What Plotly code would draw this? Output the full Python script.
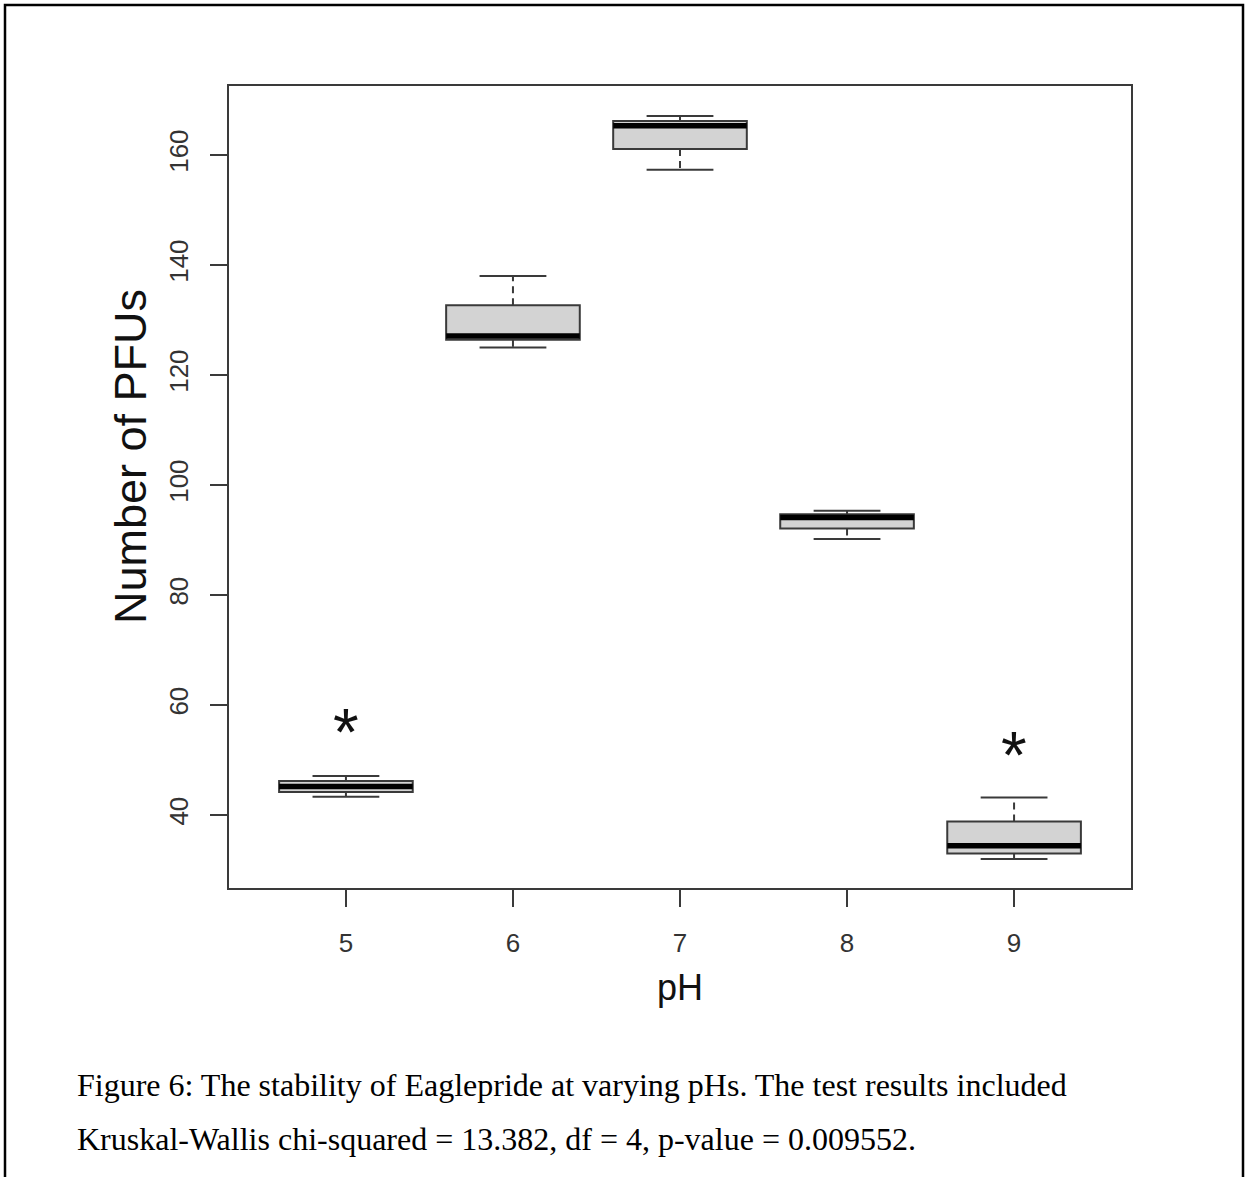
import plotly.graph_objects as go

# pH levels tested and five-number summaries of plaque counts (PFUs)
ph = [5, 6, 7, 8, 9]
pfu_min = [43.3, 125.0, 157.3, 90.2, 32.0]
pfu_q1 = [44.2, 126.4, 161.1, 92.1, 33.0]
pfu_median = [45.2, 127.1, 165.3, 94.1, 34.4]
pfu_q3 = [46.2, 132.7, 166.2, 94.7, 38.8]
pfu_max = [47.1, 138.0, 167.1, 95.3, 43.2]

# significance markers
signif_ph = [5, 9]
signif_y = [56.9, 52.7]

y_ticks = [40, 60, 80, 100, 120, 140, 160]

caption_lines = [
    "Figure 6: The stability of Eaglepride at varying pHs. The test results included",
    "Kruskal-Wallis chi-squared = 13.382, df = 4, p-value = 0.009552.",
]

BOX_W = 0.8
CAP_W = 0.4
LINE = "#3a3a3a"
SANS = "Liberation Sans, Arial, Helvetica, sans-serif"
SERIF = "Liberation Serif, Times New Roman, serif"

W, H = 1245, 1177
L, R, T, B = 229, 114, 86, 289
PW, PH = W - L - R, H - T - B


def px_x(px):
    return (px - L) / PW


def px_y(py):
    return (H - B - py) / PH


fig = go.Figure()

# boxes (whiskers drawn separately so they can be dashed)
fig.add_trace(go.Box(
    x=ph, q1=pfu_q1, median=pfu_median, q3=pfu_q3,
    lowerfence=pfu_q1, upperfence=pfu_q3,
    width=BOX_W, whiskerwidth=0,
    fillcolor="#d3d3d3", line=dict(color=LINE, width=2),
    boxpoints=False, hoverinfo="skip", showlegend=False,
))

# dashed whiskers
wx, wy = [], []
for x, lo, q1, q3, hi in zip(ph, pfu_min, pfu_q1, pfu_q3, pfu_max):
    wx += [x, x, None, x, x, None]
    wy += [q3, hi, None, q1, lo, None]
fig.add_trace(go.Scatter(
    x=wx, y=wy, mode="lines",
    line=dict(color=LINE, width=2, dash="7px,5px"),
    hoverinfo="skip", showlegend=False,
))

# whisker caps
cx, cy = [], []
for x, lo, hi in zip(ph, pfu_min, pfu_max):
    cx += [x - CAP_W / 2, x + CAP_W / 2, None, x - CAP_W / 2, x + CAP_W / 2, None]
    cy += [hi, hi, None, lo, lo, None]
fig.add_trace(go.Scatter(
    x=cx, y=cy, mode="lines",
    line=dict(color=LINE, width=2),
    hoverinfo="skip", showlegend=False,
))

# thick median bars
mx, my = [], []
for x, m in zip(ph, pfu_median):
    mx += [x - BOX_W / 2, x + BOX_W / 2, None]
    my += [m, m, None]
fig.add_trace(go.Scatter(
    x=mx, y=my, mode="lines",
    line=dict(color="#000000", width=5.5),
    hoverinfo="skip", showlegend=False,
))

# asterisks marking significant groups (glyph sits high, so nudge down)
for x, y in zip(signif_ph, signif_y):
    fig.add_annotation(
        x=x, y=y, text="*", showarrow=False,
        xanchor="center", yanchor="middle", yshift=-10,
        font=dict(family=SANS, size=66, color="#111111"),
    )

# y-axis title placed as rotated text
fig.add_annotation(
    text="Number of PFUs", xref="paper", yref="paper",
    x=px_x(130), y=px_y(457), textangle=-90,
    xanchor="center", yanchor="middle", showarrow=False,
    font=dict(family=SANS, size=45, color="#111111"),
)

# outer frame around figure and caption
fig.add_shape(
    type="path", xref="paper", yref="paper",
    path=(f"M {px_x(5)} {px_y(H)} L {px_x(5)} {px_y(5)} "
          f"L {px_x(1243)} {px_y(5)} L {px_x(1243)} {px_y(H)}"),
    line=dict(color="#000000", width=2.5),
)

for i, txt in enumerate(caption_lines):
    fig.add_annotation(
        text=txt, xref="paper", yref="paper",
        x=px_x(75), y=px_y(1085 + 54 * i),
        xanchor="left", yanchor="middle", showarrow=False,
        font=dict(family=SERIF, size=32, color="#000000"),
    )

fig.update_layout(
    width=W, height=H,
    margin=dict(l=L, r=R, t=T, b=B, pad=0),
    paper_bgcolor="white", plot_bgcolor="white",
    font=dict(family=SANS, color="#333333"),
)

fig.update_xaxes(
    range=[4.3, 9.7], tickvals=ph, ticktext=[str(p) for p in ph],
    ticks="outside", ticklen=17, tickwidth=1.6, tickcolor=LINE,
    tickfont=dict(size=26, color="#333333"),
    showgrid=False, zeroline=False,
    showline=True, mirror=True, linecolor=LINE, linewidth=2,
    title=dict(text="pH", font=dict(size=36, color="#111111"), standoff=18),
    ticklabelstandoff=14,
)
fig.update_yaxes(
    range=[26.73, 172.55], tickvals=y_ticks,
    ticks="outside", ticklen=17, tickwidth=1.6, tickcolor=LINE,
    tickangle=-90, tickfont=dict(size=26, color="#333333"),
    showgrid=False, zeroline=False,
    showline=True, mirror=True, linecolor=LINE, linewidth=2,
    ticklabelstandoff=12,
)

fig.write_html("out.html")
